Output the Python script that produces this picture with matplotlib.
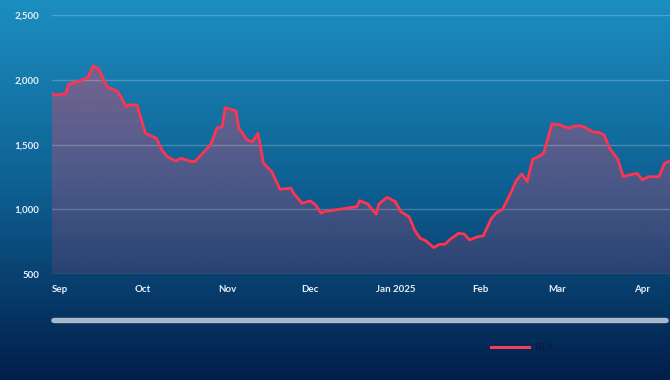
import numpy as np
import pandas as pd
import matplotlib
matplotlib.use("Agg")
import matplotlib.pyplot as plt
import matplotlib.dates as mdates
from matplotlib.ticker import FuncFormatter
from matplotlib.lines import Line2D
from matplotlib.patches import FancyBboxPatch

# Baltic Dry Index
dates = [
    "2024-08-29", "2024-08-30", "2024-09-03", "2024-09-04", "2024-09-08",
    "2024-09-11", "2024-09-13", "2024-09-15", "2024-09-18", "2024-09-22",
    "2024-09-25", "2024-09-26", "2024-09-29", "2024-10-02", "2024-10-06",
    "2024-10-08", "2024-10-10", "2024-10-13", "2024-10-15", "2024-10-18",
    "2024-10-20", "2024-10-24", "2024-10-26", "2024-10-28", "2024-10-30",
    "2024-10-31", "2024-11-04", "2024-11-05", "2024-11-06", "2024-11-08",
    "2024-11-10", "2024-11-12", "2024-11-14", "2024-11-17", "2024-11-20",
    "2024-11-24", "2024-11-25", "2024-11-28", "2024-12-01", "2024-12-03",
    "2024-12-05", "2024-12-06", "2024-12-14", "2024-12-18", "2024-12-19",
    "2024-12-22", "2024-12-25", "2024-12-26", "2024-12-29", "2025-01-01",
    "2025-01-03", "2025-01-06", "2025-01-08", "2025-01-10", "2025-01-12",
    "2025-01-15", "2025-01-17", "2025-01-19", "2025-01-21", "2025-01-24",
    "2025-01-26", "2025-01-28", "2025-01-31", "2025-02-02", "2025-02-05",
    "2025-02-07", "2025-02-09", "2025-02-12", "2025-02-14", "2025-02-16",
    "2025-02-18", "2025-02-20", "2025-02-22", "2025-02-24", "2025-02-27",
    "2025-03-02", "2025-03-05", "2025-03-07", "2025-03-09", "2025-03-11",
    "2025-03-14", "2025-03-16", "2025-03-18", "2025-03-20", "2025-03-23",
    "2025-03-25", "2025-03-27", "2025-03-30", "2025-04-01", "2025-04-03",
    "2025-04-07", "2025-04-09", "2025-04-11",
]
bdi = [
    1897, 1883, 1891, 1966, 1992,
    2017, 2107, 2084, 1948, 1909,
    1793, 1806, 1806, 1588, 1549,
    1459, 1407, 1374, 1395, 1374,
    1369, 1459, 1511, 1627, 1640,
    1786, 1760, 1627, 1600, 1536,
    1523, 1588, 1356, 1292, 1156,
    1164, 1125, 1048, 1066, 1035,
    971, 983, 1009, 1022, 1068,
    1042, 963, 1042, 1094, 1060,
    983, 944, 842, 778, 760,
    706, 731, 731, 770, 816,
    811, 765, 790, 796, 932,
    978, 1000, 1125, 1222, 1274,
    1215, 1387, 1407, 1434, 1660,
    1652, 1627, 1640, 1647, 1634,
    1596, 1596, 1575, 1472, 1387,
    1253, 1266, 1279, 1228, 1253,
    1253, 1356, 1374,
]
y_ticks = [500, 1000, 1500, 2000, 2500]
series_name = "BDI"

x = pd.to_datetime(dates)
xn = mdates.date2num(x)
y = np.array(bdi, dtype=float)

fig = plt.figure(figsize=(6.7, 3.8), dpi=100)

# background gradient, light teal at top to navy at bottom
bg = fig.add_axes([0, 0, 1, 1], zorder=0)
bg.axis("off")
top_c = np.array([28, 142, 192]) / 255
mid_c = np.array([14, 95, 145]) / 255
bot_c = np.array([2, 30, 74]) / 255
t = np.linspace(0, 1, 256)[:, None]
grad = np.where(t < 0.5,
                top_c * (1 - t / 0.5) + mid_c * (t / 0.5),
                mid_c * (1 - (t - 0.5) / 0.5) + bot_c * ((t - 0.5) / 0.5))
bg.imshow(grad[:, None, :].repeat(2, axis=1), aspect="auto",
          extent=[0, 1, 0, 1], origin="upper")
bg.set_xlim(0, 1)
bg.set_ylim(0, 1)

ax = fig.add_axes([52 / 670, 1 - 274.3 / 380, 1 - 52 / 670, 259.3 / 380],
                  zorder=1)
ax.set_facecolor("none")
ax.set_xlim(xn[0], xn[-1])
ax.set_ylim(500, 2500)

# gradient fill under the line
fill_rgb = np.array([238, 66, 105]) / 255
ny = 200
alpha = np.linspace(0.44, 0.14, ny)[:, None]
img = np.zeros((ny, 2, 4))
img[..., :3] = fill_rgb
img[..., 3] = alpha
poly = ax.fill_between(xn, y, 500, color="none", lw=0)
im = ax.imshow(img, aspect="auto", extent=[xn[0], xn[-1], 500, y.max()],
               origin="upper", zorder=1)
im.set_clip_path(poly.get_paths()[0], transform=ax.transData)

ax.plot(xn, y, color="#ff3352", lw=2.0, solid_joinstyle="round",
        zorder=3, label=series_name)

for v in y_ticks:
    ax.axhline(v, color="white", alpha=0.22, lw=1.0, zorder=2)

for s in ax.spines.values():
    s.set_visible(False)

ax.set_yticks(y_ticks)
ax.yaxis.set_major_formatter(FuncFormatter(lambda v, p: f"{v:,.0f}"))
ax.xaxis.set_major_locator(mdates.MonthLocator())


def month_label(v, p):
    d = mdates.num2date(v)
    return "Jan 2025" if d.month == 1 else d.strftime("%b")


ax.xaxis.set_major_formatter(FuncFormatter(month_label))
ax.tick_params(axis="both", length=0, colors="#e8eef5", labelsize=7)
ax.tick_params(axis="y", pad=9)
ax.tick_params(axis="x", pad=8)
for lab in ax.get_xticklabels() + ax.get_yticklabels():
    lab.set_fontfamily("Lato")
    lab.set_fontweight("bold")

# scrollbar-like strip under the chart
bar = FancyBboxPatch((52 / 670, 1 - 322.5 / 380), 1 - 52 / 670 - 0.003,
                     4 / 380, boxstyle="round,pad=0,rounding_size=0.004",
                     transform=fig.transFigure, color="#a9b9cb", zorder=2)
fig.add_artist(bar)

# legend
handle = Line2D([], [], color="#f0405c", lw=2.2)
fig.legend([handle], [series_name], loc="center left",
           bbox_to_anchor=(482 / 670, 1 - 347.5 / 380), frameon=False,
           handlelength=3.6, handletextpad=0.6,
           labelcolor="#0b1c3c", prop={"family": "Lato", "size": 7.5})

fig.savefig("out.png", dpi=100)
